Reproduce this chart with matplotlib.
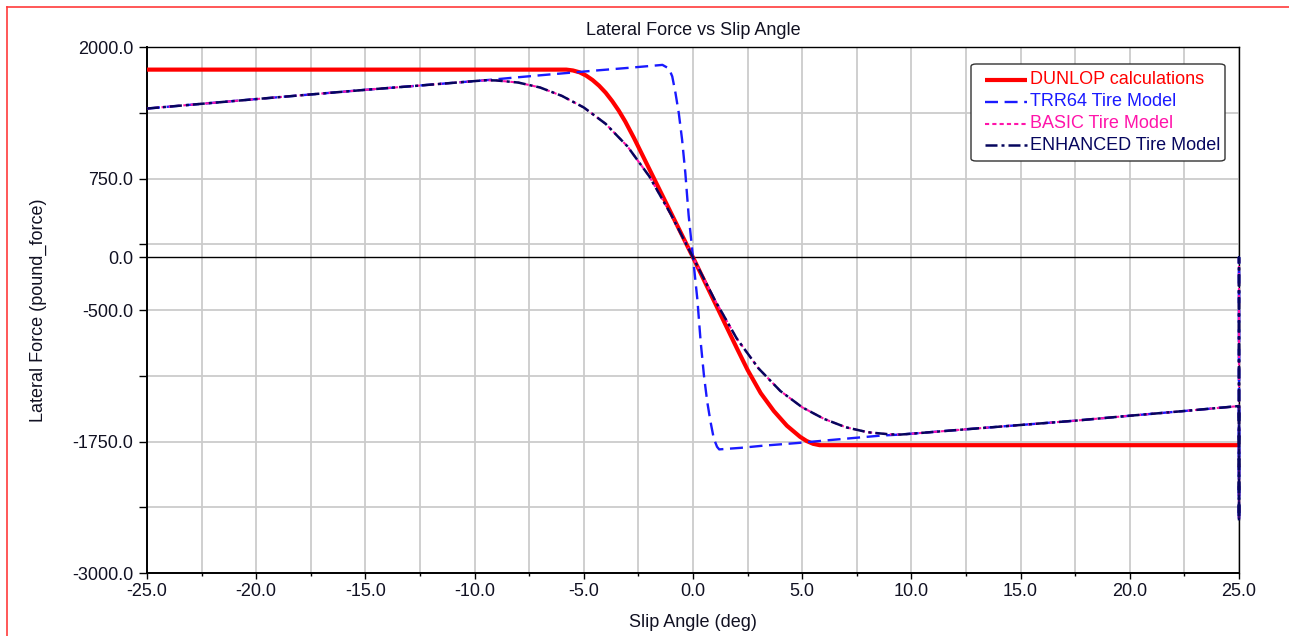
import matplotlib
matplotlib.use("Agg")
import matplotlib.pyplot as plt
from matplotlib.lines import Line2D
from matplotlib.patches import FancyBboxPatch

plt.rcParams["font.family"] = ["Liberation Sans", "DejaVu Sans"]

# ---- data -------------------------------------------------------------
dunlop_x = [-25.0, -5.8, -5.5, -5.2, -4.9, -4.6, -4.3, -4.0, -3.7, -3.4, -3.1, -2.7,
            -2.0, -1.0, 0.0, 1.0, 2.0, 2.5, 3.1, 3.7, 4.3, 4.9, 5.2, 5.5, 5.8, 25.0]
dunlop_y = [1785, 1785, 1777, 1760, 1729, 1686, 1632, 1566, 1486, 1395, 1291, 1134,
            840, 420, 0, -430, -860, -1070, -1290, -1460, -1600, -1705, -1745, -1772, -1785, -1785]

trr64_x = [-25.0, -20.0, -15.0, -12.5, -10.0, -9.3, -7.6, -6.5, -5.2, -4.3, -3.0,
           -1.5, -1.4, -1.1, -0.95, -0.8, -0.65, -0.5, -0.35, -0.2, 0.0,
           0.2, 0.35, 0.5, 0.65, 0.8, 0.95, 1.1, 1.2, 2.2, 3.2, 4.75, 6.3, 7.5, 8.6, 9.5,
           12.5, 15.0, 17.5, 20.0, 22.5, 25.0, 25.0, 25.0, 25.0]
trr64_y = [1415, 1505, 1593, 1634, 1676, 1688, 1720, 1740, 1763, 1779, 1801,
           1828, 1830, 1795, 1720, 1560, 1370, 1120, 800, 400, 0,
           -400, -800, -1120, -1370, -1560, -1720, -1800, -1825, -1810, -1790, -1765, -1736, -1714, -1694, -1684,
           -1634, -1593, -1552, -1505, -1460, -1413, -2500, 0, -2500]

model_x = [-25.0, -20.0, -15.0, -12.5, -10.0, -9.5, -9.0, -8.0, -7.0, -6.0, -5.0, -4.0,
           -3.0, -2.0, -1.0, 0.0, 1.0, 2.0, 3.0, 4.0, 5.0, 6.0, 7.0, 8.0, 9.0, 9.5,
           10.0, 12.5, 15.0, 17.5, 20.0, 22.5, 25.0, 25.0, 25.0, 25.0]
basic_y = [1415, 1505, 1593, 1634, 1676, 1684, 1682, 1662, 1615, 1535, 1425, 1270,
           1055, 770, 405, 0, -405, -770, -1055, -1270, -1425, -1535, -1615, -1662, -1682, -1684,
           -1676, -1634, -1593, -1552, -1505, -1460, -1413, -2500, 0, -2500]
enhanced_y = list(basic_y)

series_labels = ["DUNLOP calculations", "TRR64 Tire Model", "BASIC Tire Model", "ENHANCED Tire Model"]
series_colors = ["#ff0000", "#1a1aff", "#ff14aa", "#06065e"]

x_ticks = [-25.0, -20.0, -15.0, -10.0, -5.0, 0.0, 5.0, 10.0, 15.0, 20.0, 25.0]
y_labeled = [2000.0, 750.0, 0.0, -500.0, -1750.0, -3000.0]
y_grid = [2000.0, 1375.0, 750.0, 125.0, -500.0, -1125.0, -1750.0, -2375.0, -3000.0]

FS = 13
TXT = "#111122"

# ---- figure -----------------------------------------------------------
W, H = 1289, 636
fig = plt.figure(figsize=(W / 100, H / 100), dpi=100)
ax = fig.add_axes([147 / W, 1 - 573 / H, (1239 - 147) / W, (573 - 47) / H])

ax.set_xlim(-25, 25)
ax.set_ylim(-3000, 2000)

# grid
for gx in [v / 2 for v in range(-50, 51, 5)]:
    ax.axvline(gx, color="#cbcbcb", lw=1.3, zorder=0)
for gy in y_grid:
    ax.axhline(gy, color="#cbcbcb", lw=1.3, zorder=0)
ax.axhline(0, color="black", lw=1.0, zorder=1)

# curves
styles = [
    dict(lw=3.0, solid_capstyle="butt"),
    dict(lw=1.7, dashes=(5.5, 2.8)),
    dict(lw=1.5, dashes=(2, 1.5)),
    dict(lw=1.8, dashes=(4.8, 1.6, 1.2, 1.6)),
]
xs = [dunlop_x, trr64_x, model_x, model_x]
ys = [dunlop_y, trr64_y, basic_y, enhanced_y]
for i, (xv, yv) in enumerate(zip(xs, ys)):
    ax.plot(xv, yv, color=series_colors[i], zorder=3 + i, clip_on=(i == 0), **styles[i])

# ticks
ax.set_xticks(x_ticks)
ax.set_xticklabels([f"{v:.1f}" for v in x_ticks])
ax.set_xticks([v + 2.5 for v in x_ticks[:-1]], minor=True)
ax.set_yticks(y_grid, minor=True)
ax.set_yticks(y_labeled)
ax.set_yticklabels([f"{v:.1f}" for v in y_labeled])
ax.tick_params(axis="x", which="major", length=4.5, width=1, pad=3, labelsize=FS,
               colors="black", labelcolor=TXT)
ax.tick_params(axis="x", which="minor", length=2.2, width=1, colors="black")
ax.tick_params(axis="y", which="both", length=5.8, width=1, pad=4, labelsize=FS,
               colors="black", labelcolor=TXT)

for sp in ax.spines.values():
    sp.set_color("black")
    sp.set_linewidth(1.0)
ax.spines["left"].set_linewidth(1.4)
ax.spines["bottom"].set_linewidth(1.4)

ax.set_xlabel("Slip Angle (deg)", fontsize=FS, color=TXT)
ax.set_ylabel("Lateral Force (pound_force)", fontsize=FS, color=TXT)
ax.xaxis.set_label_coords(0.5, -0.077)
ax.yaxis.set_label_coords(-0.0916, 0.5)

fig.text(693 / W, 1 - 30.5 / H, "Lateral Force vs Slip Angle", ha="center", va="center",
         fontsize=FS, color=TXT)


# ---- legend box (figure pixel layout) ----------------------------------
def fx(px):
    return px / W


def fy(py):
    return 1 - py / H


box = FancyBboxPatch((fx(971), fy(161)), fx(1225) - fx(971), fy(64) - fy(161),
                     boxstyle="round,pad=0,rounding_size=0.004", transform=fig.transFigure,
                     facecolor="white", edgecolor="#333333", lw=1.0, zorder=20)
fig.add_artist(box)
for i, label in enumerate(series_labels):
    row_y = fy(80 + 21.8 * i)
    fig.add_artist(Line2D([fx(985), fx(1027)], [row_y, row_y], color=series_colors[i],
                          transform=fig.transFigure, zorder=21, **styles[i]))
    fig.text(fx(1030), row_y, label, color=series_colors[i], fontsize=FS,
             ha="left", va="center", zorder=22)

# outer frame edges
fig.add_artist(Line2D([7 / W, 1.0], [1 - 6.5 / H, 1 - 6.5 / H], color="#ff3b3b", lw=1.2,
                      transform=fig.transFigure))
fig.add_artist(Line2D([7 / W, 7 / W], [0.0, 1 - 6.5 / H], color="#ff3b3b", lw=1.2,
                      transform=fig.transFigure))

fig.savefig("out.png", dpi=100, facecolor="white")
